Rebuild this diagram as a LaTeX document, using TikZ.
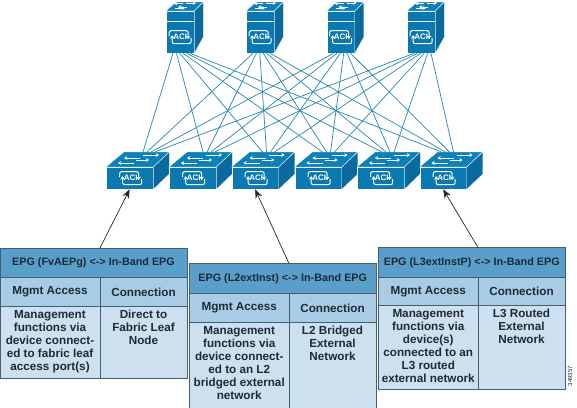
\documentclass[tikz,border=0pt]{standalone}
\usepackage{fontspec}
\setmainfont{Liberation Sans}
\usetikzlibrary{arrows.meta,calc}
\definecolor{swfront}{HTML}{0A79B2}
\definecolor{swtop}{HTML}{0C80B8}
\definecolor{swside}{HTML}{0A6A9E}
\definecolor{linkc}{HTML}{2F8CB4}
\definecolor{headc}{HTML}{5A9FCB}
\definecolor{rowc}{HTML}{A9CCE5}
\definecolor{bodyc}{HTML}{CDE0F0}
\definecolor{bordc}{HTML}{465F70}
\definecolor{txtc}{HTML}{1E2A36}
\tikzset{
  swface/.style={fill=swfront,draw=white,line width=.3pt,inner sep=0pt,anchor=north west},
  swtopf/.style={fill=swtop,draw=white,line width=.3pt},
  swsidef/.style={fill=swside,draw=white,line width=.3pt},
  swarrow/.style={white,line width=1pt,-{Stealth[length=3.2pt,width=3.8pt]}},
  icon/.style={white,line width=1pt,rounded corners=2pt,-{Stealth[length=3.5pt,width=4.5pt]}},
  acitext/.style={text=white,font=\bfseries\fontsize{8}{8}\selectfont,inner sep=0pt},
  linkline/.style={linkc,line width=.75pt},
  cellb/.style={draw=bordc,line width=.9pt},
  celltext/.style={text=txtc,align=center,inner sep=0pt,anchor=north,font=\bfseries\fontsize{11.7}{13}\selectfont},
  headtext/.style={text=txtc,align=center,inner sep=0pt,font=\bfseries\fontsize{10.8}{13}\selectfont},
  rowtext/.style={text=txtc,align=center,inner sep=0pt,font=\bfseries\fontsize{11.7}{13}\selectfont},
  evarrow/.style={black!85,line width=.7pt,-{Stealth[length=9pt,width=7pt]}}
}
\newcommand{\aciicon}[2]{%
  \draw[icon] ($(#1)+(-11,-1)$) -- ($(#1)+(-11,-6.5)$) -- ($(#1)+(8,-6.5)$) -- ($(#1)+(8,2)$);
  \draw[icon] ($(#1)+(11,1)$) -- ($(#1)+(11,6.5)$) -- ($(#1)+(-8,6.5)$) -- ($(#1)+(-8,-2)$);
  \node[acitext] (#2) at (#1) {ACI};
}
\newcommand{\epgtable}[9]{%
  \path[cellb,fill=headc] (#2,#5) rectangle (#4,#6);
  \path[cellb,fill=rowc] (#2,#6) rectangle (#3,#7);
  \path[cellb,fill=rowc] (#3,#6) rectangle (#4,#7);
  \path[cellb,fill=bodyc] (#2,#7) rectangle (#3,#8);
  \path[cellb,fill=bodyc] (#3,#7) rectangle (#4,#8);
  \node[headtext] (#1h) at ({(#2+#4)/2},{(#5+#6)/2+0.5}) {#9};
  \node[rowtext] (#1a) at ({(#2+#3)/2},{(#6+#7)/2+0.5}) {Mgmt Access};
  \node[rowtext] (#1c) at ({(#3+#4)/2},{(#6+#7)/2+0.5}) {Connection};
  \coordinate (#1t) at (#3,#5);
  \coordinate (#1l) at ({(#2+#3)/2},{#7+4});
  \coordinate (#1r) at ({(#3+#4)/2},{#7+4});
}
\begin{document}
\begin{tikzpicture}[x=1pt,y=-1pt]
\useasboundingbox (0,0) rectangle (577,407);
% spines
\foreach \i/\sxx in {1/166,2/246,3/326.5,4/407}{
  \node[swface,minimum width=28pt,minimum height=42pt] (s\i) at (\sxx,11) {};
  \path[swtopf] (s\i.north west) -- ++(10,-9) -- ++(27,0) -- (s\i.north east) -- cycle;
  \path[swsidef] (s\i.north east) -- ++(9,-9) -- ++(0,35) -- (s\i.south east) -- cycle;
  \draw[white,line width=.5pt] ($(s\i.north west)+(0,10)$) -- ($(s\i.north east)+(0,10)$);
  \coordinate (si\i) at ($(s\i.center)+(0,5)$);
  \aciicon{si\i}{sa\i}
  \draw[swarrow] ($(s\i.north west)+(17,-7.5)$) -- ++(-9,0);
  \draw[swarrow] ($(s\i.north west)+(20,-8)$) -- ++(10,0);
  \draw[swarrow] ($(s\i.north west)+(9,-3)$) -- ++(10,0);
  \draw[swarrow] ($(s\i.north west)+(21,-4)$) -- ++(-9,0);
}
% leaves
\foreach \i/\lxx in {1/106,2/169,3/231.5,4/294.5,5/357,6/419.5}{
  \node[swface,minimum width=47pt,minimum height=22pt] (l\i) at (\lxx,167) {};
  \path[swtopf] (l\i.north west) -- ++(18,-15) -- ++(45,0) -- (l\i.north east) -- cycle;
  \path[swsidef] (l\i.north east) -- ++(16,-15) -- ++(0,22) -- (l\i.south east) -- cycle;
  \coordinate (li\i) at ($(l\i.center)+(1,0)$);
  \aciicon{li\i}{la\i}
  \draw[swarrow] ($(l\i.north west)+(34,-9)$) -- ++(-16,0);
  \draw[swarrow] ($(l\i.north west)+(37,-12)$) -- ++(16,0);
  \draw[swarrow] ($(l\i.north west)+(30,-7)$) -- ++(13,0);
  \draw[swarrow] ($(l\i.north west)+(28,-4)$) -- ++(-16,0);
}
% fabric links
\foreach \i in {1,2,3,4}{
  \foreach \j in {1,...,6}{
    \pgfmathsetmacro{\sxo}{7+3.4*(\j-1)}
    \pgfmathsetmacro{\lxo}{22+4*(\i-1)+3*(6-\j)}
    \draw[linkline] ($(s\i.south west)+(\sxo,0)$) -- ($(l\j.north west)+(\lxo,-15)$);
  }
}
% tables
\epgtable{a}{0}{100}{187}{248}{277}{306}{378}{EPG (FvAEPg) <-> In-Band EPG}
\node[celltext] (ab) at (al) {Management\\functions via\\device connect-\\ed to fabric leaf\\access port(s)};
\node[celltext] (ac2) at (ar) {Direct to\\Fabric Leaf\\Node};
\epgtable{b}{189.5}{289}{376}{263.5}{293}{322}{410}{EPG (L2extInst) <-> In-Band EPG}
\node[celltext] (bb) at (bl) {Management\\functions via\\device connect-\\ed to an L2\\bridged external\\network};
\node[celltext] (bc2) at (br) {L2 Bridged\\External\\Network};
\epgtable{c}{378.5}{478}{565}{247.5}{277}{305}{389}{EPG (L3extInstP) <-> In-Band EPG}
\node[celltext] (cb) at (cl) {Management\\functions via\\device(s)\\connected to an\\L3 routed\\external network};
\node[celltext] (cc2) at (cr) {L3 Routed\\External\\Network};
% event arrows
\draw[evarrow] (at) -- (l1.south);
\draw[evarrow] (bt) -- (l3.south);
\draw[evarrow] (ct) -- (l6.south);
% figure number
\node[rotate=90,text=txtc,font=\fontsize{6}{6}\selectfont,inner sep=0pt] (fig) at (570,376) {349357};
\end{tikzpicture}
\end{document}
